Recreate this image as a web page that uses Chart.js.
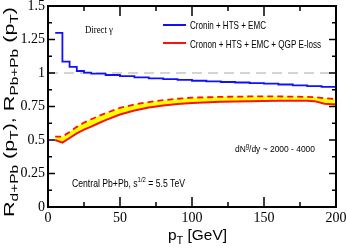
<!DOCTYPE html>
<html>
<head>
<meta charset="utf-8">
<script src="https://cdn.jsdelivr.net/npm/chart.js@4.4.0/dist/chart.umd.min.js"></script>
<style>
html,body{margin:0;padding:0;background:#fff;}
#wrap{width:346px;height:249px;position:relative;}
</style>
</head>
<body>
<div id="wrap"><canvas id="c"></canvas></div>
<script>
// Cronin + HTS + EMC (histogram, drawn as steps)
const ptBlue = [5,10,15,20,25,30,40,50,60,70,80,90,100,110,120,130,140,150,160,170,180,190,200];
const rBlue  = [1.30,1.085,1.045,1.015,1.003,0.995,0.985,0.976,0.968,0.96,0.954,0.948,0.942,0.937,0.933,0.929,0.925,0.92,0.914,0.908,0.902,0.896,0.89];

// + QGP E-loss band: lower edge (solid) and upper edge (dashed)
const ptRed    = [5,10,15,20,25,30,35,40,50,60,70,80,90,100,120,140,160,180,185,192,200];
const rRedLow  = [0.50,0.48,0.515,0.55,0.578,0.60,0.625,0.648,0.69,0.72,0.742,0.758,0.769,0.777,0.785,0.79,0.792,0.792,0.79,0.77,0.765];
const rRedHigh = [0.525,0.525,0.56,0.598,0.63,0.655,0.678,0.70,0.74,0.765,0.783,0.797,0.808,0.816,0.822,0.825,0.825,0.822,0.82,0.812,0.805];

// R = 1 reference
const ptRef = [0,200];
const rRef  = [1,1];

const xTickLabels = ['0','50','100','150','200'];
const yTickLabels = ['0','0.25','0.5','0.75','1','1.25','1.5'];

function pts(xs, ys){ return xs.map((v,i)=>({x:v, y:ys[i]})); }

// text drawn as pieces (normal / sub / sup), squeezed to a target width
function richText(ctx, parts, x, y, width, family, rot){
  let w = 0;
  parts.forEach(p => { ctx.font = p[1] + 'px ' + family; w += ctx.measureText(p[0]).width; });
  const sx = width / w;
  ctx.save();
  ctx.translate(x, y);
  if (rot) ctx.rotate(rot);
  ctx.scale(sx, 1);
  ctx.fillStyle = '#000';
  ctx.textBaseline = 'alphabetic';
  ctx.textAlign = 'left';
  let cx = 0;
  parts.forEach(p => {
    ctx.font = p[1] + 'px ' + family;
    ctx.fillText(p[0], cx, p[2] || 0);
    cx += ctx.measureText(p[0]).width;
  });
  ctx.restore();
}

const decor = {
  id: 'decor',
  afterDraw(chart){
    const {ctx, chartArea: a, scales: {x, y}} = chart;
    ctx.save();
    ctx.strokeStyle = '#000';
    ctx.lineWidth = 1.5;
    ctx.beginPath();
    for (let v = 0; v <= 200; v += 25) {
      const px = x.getPixelForValue(v);
      const L = v % 50 === 0 ? 10 : 5;
      ctx.moveTo(px, a.bottom); ctx.lineTo(px, a.bottom - L);
      ctx.moveTo(px, a.top); ctx.lineTo(px, a.top + L);
    }
    for (let k = 0; k <= 12; k++) {
      const py = y.getPixelForValue(k * 0.125);
      const L = k % 2 === 0 ? 7 : 4;
      ctx.moveTo(a.left, py); ctx.lineTo(a.left + L, py);
      ctx.moveTo(a.right, py); ctx.lineTo(a.right - L, py);
    }
    ctx.stroke();
    ctx.lineWidth = 2;
    ctx.strokeRect(a.left, a.top, a.width, a.height);

    // legend
    const ds = chart.data.datasets;
    ctx.lineWidth = 2;
    ctx.strokeStyle = ds[0].borderColor;
    ctx.beginPath(); ctx.moveTo(163, 25); ctx.lineTo(186, 25); ctx.stroke();
    ctx.strokeStyle = ds[1].borderColor;
    ctx.beginPath(); ctx.moveTo(163, 43); ctx.lineTo(186, 43); ctx.stroke();
    ctx.restore();

    const sans = '"Liberation Sans", Arial, sans-serif';
    const serif = '"Liberation Serif", "Times New Roman", serif';
    richText(ctx, [['Cronin + HTS + EMC', 10.5]], 190, 29, 76, sans);
    richText(ctx, [['Cronon + HTS + EMC + QGP E-loss', 10.5]], 190, 47.5, 131, sans);
    richText(ctx, [['Direct γ', 10]], 85, 33.3, 28, serif);
    richText(ctx, [['dN', 9.3], ['g', 6.5, -4], ['/dy ~ 2000 - 4000', 9.3]], 235, 151.7, 80, sans);
    richText(ctx, [['Central Pb+Pb, s', 11], ['1/2', 7.5, -5], [' = 5.5 TeV', 11]], 72, 187.3, 113, sans);
    richText(ctx, [['p', 14], ['T', 10, 4], [' [GeV]', 14]], 168, 240, 59, sans);
    richText(ctx, [['R', 14], ['d+Pb', 10, 4], [' (p', 14], ['T', 10, 4], ['), R', 14], ['Pb+Pb', 10, 4], [' (p', 14], ['T', 10, 4], [')', 14]],
      14, 217, 210, sans, -Math.PI / 2);
  }
};

new Chart(document.getElementById('c'), {
  type: 'line',
  data: {
    datasets: [
      { data: pts(ptBlue, rBlue), borderColor: '#1010ff', borderWidth: 1.8, stepped: 'before', pointRadius: 0, fill: false },
      { data: pts(ptRed, rRedLow), borderColor: '#ff1010', borderWidth: 2, pointRadius: 0, fill: false },
      { data: pts(ptRed, rRedHigh), borderColor: '#ff1010', borderWidth: 1.8, borderDash: [6, 4], pointRadius: 0,
        fill: '-1', backgroundColor: '#ffff00' },
      { data: pts(ptRef, rRef), borderColor: '#d4d4d4', borderWidth: 2, borderDash: [10, 6], pointRadius: 0, fill: false }
    ]
  },
  options: {
    responsive: true,
    maintainAspectRatio: false,
    animation: false,
    layout: { padding: { top: 6, right: 10, left: 0, bottom: 0 } },
    plugins: { legend: { display: false }, tooltip: { enabled: false } },
    scales: {
      x: {
        type: 'linear', min: 0, max: 200,
        grid: { display: false, drawTicks: false },
        border: { display: false },
        ticks: {
          stepSize: 50, padding: 3, color: '#000', maxRotation: 0,
          font: { family: '"Liberation Serif", serif', size: 14 },
          callback: (v, i) => xTickLabels[i]
        },
        afterFit(s) { s.height = 42; s.paddingLeft = 0; s.paddingRight = 0; }
      },
      y: {
        type: 'linear', min: 0, max: 1.5,
        grid: { display: false, drawTicks: false },
        border: { display: false },
        ticks: {
          stepSize: 0.25, padding: 3, color: '#000',
          font: { family: '"Liberation Serif", serif', size: 14 },
          callback: (v, i) => yTickLabels[i]
        },
        afterFit(s) { s.width = 48; s.paddingTop = 0; s.paddingBottom = 0; }
      }
    }
  },
  plugins: [decor]
});
</script>
</body>
</html>
